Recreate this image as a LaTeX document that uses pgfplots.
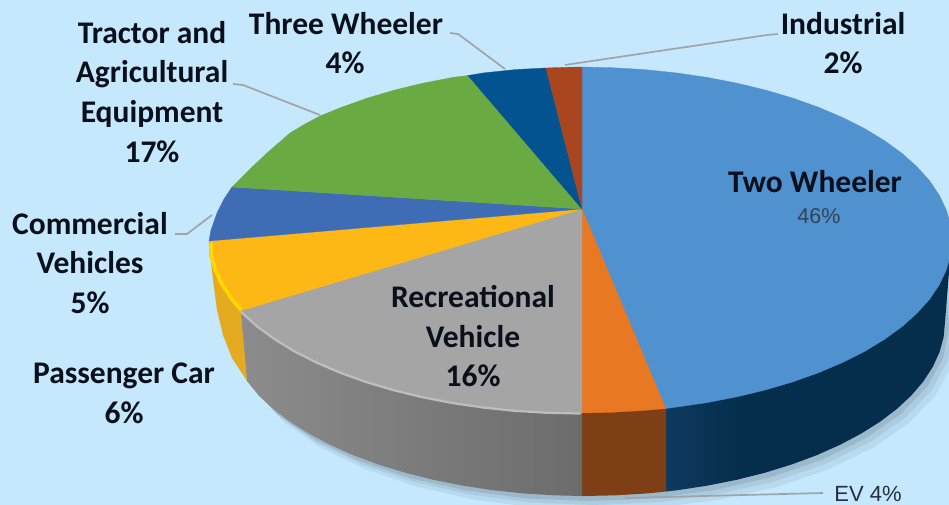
\documentclass[border=0pt]{standalone}
\usepackage{pgfplots}
\pgfplotsset{compat=1.18}
\usepackage{fontspec}
\setmainfont{Carlito}
\newfontfamily\arialf{Liberation Sans}
\definecolor{bgc}{HTML}{C6E8FC}
\definecolor{txt}{HTML}{0A0F1C}
\definecolor{lead}{HTML}{A0A4A7}
\definecolor{cTwo}{HTML}{4F92CF}
\definecolor{cEV}{HTML}{E87822}
\definecolor{cRec}{HTML}{A5A5A5}
\definecolor{cCar}{HTML}{FDB815}
\definecolor{cCom}{HTML}{3E6DB5}
\definecolor{cTra}{HTML}{6AAA43}
\definecolor{cThr}{HTML}{02538F}
\definecolor{cInd}{HTML}{A9451F}
\definecolor{shA}{HTML}{B8DAEE}
\definecolor{shB}{HTML}{ACCBDE}
\definecolor{shC}{HTML}{9CB9CB}
\newcommand{\lab}[3]{\node[anchor=base,text=txt,font=\fontsize{31.5}{37}\selectfont\bfseries,inner sep=0pt] at (axis cs:#1,#2) {#3};}
\begin{document}
\begin{tikzpicture}
\begin{axis}[
  scale only axis, width=949pt, height=505pt,
  xmin=0, xmax=949, ymin=0, ymax=505, y dir=reverse,
  hide axis, no markers, clip=true]
% background
\addplot[draw=none, fill=bgc] coordinates {(0,0)(949,0)(949,505)(0,505)} -- cycle;
% shadow
\addplot[draw=none, fill=shA] coordinates {(957,336)(951.5,366.2)(935.3,395.5)(908.8,423)(872.8,447.8)(828.4,469.3)(777,486.7)(720.1,499.5)(659.5,507.4)(597,510)(534.5,507.4)(473.9,499.5)(417,486.7)(365.6,469.3)(321.2,447.8)(285.2,423)(259,395)(235,349)(225,294)(600,200)(940,200)} -- cycle;
\addplot[draw=none, fill=shB] coordinates {(953,331)(947.5,361.2)(931.3,390.5)(904.8,418)(868.8,442.8)(824.4,464.3)(773,481.7)(716.1,494.5)(655.5,502.4)(593,505)(530.5,502.4)(469.9,494.5)(413,481.7)(361.6,464.3)(317.2,442.8)(281.2,418)(255,390)(231,344)(221,289)(600,200)(940,200)} -- cycle;
\addplot[draw=none, fill=shC] coordinates {(949,327)(943.5,357.2)(927.3,386.5)(900.8,414)(864.8,438.8)(820.4,460.3)(769,477.7)(712.1,490.5)(651.5,498.4)(589,501)(526.5,498.4)(465.9,490.5)(409,477.7)(357.6,460.3)(313.2,438.8)(277.2,414)(251,386)(227,340)(217,285)(600,200)(940,200)} -- cycle;
% walls
\addplot[draw=none, fill={rgb,255:red,4;green,46;blue,76}] coordinates {
(952,235)(945,322)(943.6,337.2)(939.5,352.2)(932.7,367)(923.3,381.5)(911.3,395.5)(896.8,409)(879.9,421.8)(860.8,433.8)(839.6,445)(816.4,455.3)(791.5,464.5)(765,472.7)(737.1,479.7)(736,370)} -- cycle;
\addplot[draw=none, left color={rgb,255:red,14;green,58;blue,96}, right color={rgb,255:red,4;green,46;blue,76}] coordinates {
(737.1,479.7)(708.1,485.5)(678.2,490.1)(666,491.5)(666,400)(737.1,380)} -- cycle;
\addplot[draw=none, fill={rgb,255:red,126;green,63;blue,23}] coordinates {
(582,405)(666,400)(666,491.5)(647.5,493.4)(616.4,495.3)(585,496)(582,496)} -- cycle;
\addplot[draw=none, left color={rgb,255:red,140;green,140;blue,140}, right color={rgb,255:red,108;green,108;blue,108}] coordinates {
(582,405)(582,496)(553.6,495.3)(522.5,493.4)(491.8,490.1)(461.9,485.5)(432.9,479.7)(405,472.7)(378.5,464.5)(353.6,455.3)(330.4,445)(309.2,433.8)(290.1,421.8)(273.2,409)(258.7,395.5)(247,381)(240,305)} -- cycle;
\addplot[draw=none, fill={rgb,255:red,228;green,170;blue,32}] coordinates {
(211,262)(213,280)(217,310)(223,335)(232,358)(247,381)(240,305)} -- cycle;
% top slices
\addplot[draw=cTwo, line width=.3pt, fill=cTwo] coordinates {
(582,209)(582,67)(612.4,67.7)(644.6,69.6)(676.3,72.9)(707.2,77.4)(737.2,83.2)(766,90.2)(793.4,98.3)(819.1,107.5)(843,117.7)(865,128.8)(884.7,140.8)(902.2,153.5)(917.1,166.9)(929.6,180.8)(939.3,195.2)(946.3,210)(950.6,224.9)(952,240)(950.6,255.1)(946.3,270)(939.3,284.8)(929.6,299.2)(917.1,313.1)(902.2,326.5)(884.7,339.2)(865,351.2)(843,362.3)(819.1,372.5)(793.4,381.7)(766,389.8)(737.2,396.8)(707.2,402.6)(676.3,407.1)(665.7,408.5)} -- cycle;
\addplot[draw=cEV, line width=.3pt, fill=cEV] coordinates {
(582,209)(665.7,408.5)(644.6,410.4)(612.4,412.3)(582,413)} -- cycle;
\addplot[draw=cRec, line width=.3pt, fill=cRec] coordinates {
(582,209)(582,413)(547.6,412.3)(515.4,410.4)(483.7,407.1)(452.8,402.6)(422.8,396.8)(394,389.8)(366.6,381.7)(340.9,372.5)(317,362.3)(295,351.2)(275.3,339.2)(257.8,326.5)(240,311)} -- cycle;
\addplot[draw=cCar, line width=.3pt, fill=cCar] coordinates {
(582,209)(240,311)(230.4,299.2)(220.7,284.8)(213.7,270)(209.4,255.1)(209,241)} -- cycle;
\addplot[draw=cCom, line width=.3pt, fill=cCom] coordinates {
(582,209)(209,241)(211,230)(217,213)(224,199)(232,187)} -- cycle;
\addplot[draw=cTra, line width=.3pt, fill=cTra] coordinates {
(582,209)(232,187)(249,170)(267,153)(290,133)(305,124)(320,116)(340.9,107.5)(366.6,98.3)(394,90.2)(422.8,83.2)(452.8,77.4)(468,75.5)} -- cycle;
\addplot[draw=cThr, line width=.3pt, fill=cThr] coordinates {
(582,209)(468,75.5)(483.7,72.9)(515.4,69.6)(546,68)} -- cycle;
\addplot[draw=cInd, line width=.3pt, fill=cInd] coordinates {
(582,209)(546,68)(565,67.3)(582,67)} -- cycle;
% rims
\addplot[draw={rgb,255:red,190;green,190;blue,190}, line width=2.2pt, line cap=round] coordinates {
(580,413.5)(547.6,412.8)(515.4,410.9)(483.7,407.6)(452.8,403.1)(422.8,397.3)(394,390.3)(366.6,382.2)(340.9,373)(317,362.8)(295,351.7)(275.3,339.7)(257.8,327)(241,312)};
\addplot[draw={rgb,255:red,255;green,216;blue,0}, line width=3.5pt] coordinates {
(241,310)(231.4,298.6)(222.2,284.6)(215.2,270)(211.4,255)(211,243)};
% leader lines
\addplot[draw=lead, line width=1.7pt] coordinates {(565,65)(767,35)(778,34)};
\addplot[draw=lead, line width=1.7pt] coordinates {(450,33)(458,34)(505,69)};
\addplot[draw=lead, line width=1.7pt] coordinates {(233,84)(243,85)(320,115)};
\addplot[draw=lead, line width=1.7pt] coordinates {(175,234)(187,234)(212,215)};
\addplot[draw=lead, line width=1.7pt] coordinates {(625,498)(823,493)};
% labels
\lab{152}{44}{Tractor and}
\lab{152}{83}{Agricultural}
\lab{152}{123}{Equipment}
\lab{152}{162}{17\%}
\lab{346}{35}{Three Wheeler}
\lab{345}{74}{4\%}
\lab{843}{35}{Industrial}
\lab{843}{74}{2\%}
\lab{815}{192}{Two Wheeler}
\node[anchor=base,text={rgb,255:red,52;green,66;blue,84},font=\arialf\fontsize{21.5}{24}\selectfont,inner sep=0pt] at (axis cs:819,223) {46\%};
\lab{473}{307}{Recreational}
\lab{473}{347}{Vehicle}
\lab{473}{386}{16\%}
\lab{90}{234}{Commercial}
\lab{90}{273}{Vehicles}
\lab{90}{313}{5\%}
\lab{124}{383}{Passenger Car}
\lab{124}{423}{6\%}
\node[anchor=base,text={rgb,255:red,36;green,48;blue,64},font=\arialf\fontsize{22}{25}\selectfont,inner sep=0pt] at (axis cs:868,501.5) {EV 4\%};
\end{axis}
\end{tikzpicture}
\end{document}
